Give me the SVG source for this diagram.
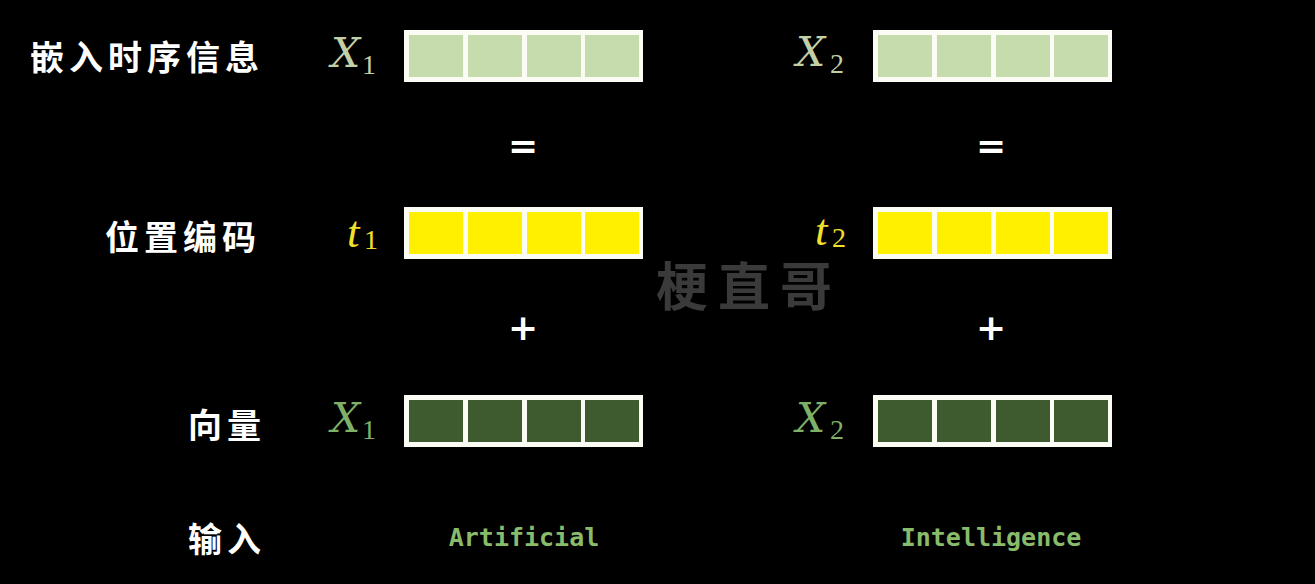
<svg xmlns="http://www.w3.org/2000/svg" width="1315" height="584" viewBox="0 0 1315 584">
<defs>
<style>
.bg{fill:#000}
.frame{fill:#fbfdf5}
.c-light{fill:#c6dcac}
.c-yellow{fill:#fff000}
.c-dark{fill:#3e5b2f}
.cn{font-family:"Noto Sans CJK SC","Noto Sans CJK JP",sans-serif;font-weight:700;font-size:34px;fill:#fff;letter-spacing:5px;dominant-baseline:central}
.math{font-family:"DejaVu Serif","Liberation Serif",serif;font-style:italic;font-size:41px}
.mt{font-family:"Liberation Serif","DejaVu Serif",serif;font-style:italic;font-size:45px}
.sub{font-family:"Liberation Serif","DejaVu Serif",serif;font-size:28px}
.op{font-family:"DejaVu Sans",sans-serif;font-weight:700;font-size:36px;fill:#fff;text-anchor:middle;dominant-baseline:central}
.word{font-family:"DejaVu Sans Mono","Liberation Mono",monospace;font-weight:700;font-size:25px;fill:#88bb6a;text-anchor:middle;dominant-baseline:central}
.wm{font-family:"Noto Sans CJK SC",sans-serif;font-weight:700;font-size:52px;fill:#3a3a3a;letter-spacing:10px}
.lx{fill:#c3cfa6}
.ly{fill:#f2e12a}
.lg{fill:#7fb067}
</style>
<g id="vec">
<rect class="frame" x="0" y="0" width="239" height="52"/>
<rect x="5" y="5" width="54" height="42"/>
<rect x="64" y="5" width="54" height="42"/>
<rect x="123" y="5" width="54" height="42"/>
<rect x="181" y="5" width="54" height="42"/>
</g>
</defs>
<rect class="bg" x="0" y="0" width="1315" height="584"/>
<g id="watermark"><text class="wm" x="656" y="306">梗直哥</text></g>
<g id="labels">
<text class="cn" x="30" y="55">嵌入时序信息</text>
<text class="cn" x="105" y="235">位置编码</text>
<text class="cn" x="188" y="423">向量</text>
<text class="cn" x="188" y="537">输入</text>
</g>
<g id="x1-embed">
<text class="math lx" x="331" y="67">X</text>
<text class="sub lx" x="362" y="74">1</text>
<use href="#vec" x="404" y="30" class="c-light"/>
</g>
<g id="x2-embed">
<text class="math lx" x="796" y="66">X</text>
<text class="sub lx" x="830" y="73">2</text>
<use href="#vec" x="873" y="30" class="c-light"/>
</g>
<g id="t1">
<text class="mt ly" x="347" y="247">t</text>
<text class="sub ly" x="364" y="249">1</text>
<use href="#vec" x="404" y="207" class="c-yellow"/>
</g>
<g id="t2">
<text class="mt ly" x="815" y="245">t</text>
<text class="sub ly" x="832" y="247">2</text>
<use href="#vec" x="873" y="207" class="c-yellow"/>
</g>
<g id="x1-vec">
<text class="math lg" x="331" y="432">X</text>
<text class="sub lg" x="362" y="439">1</text>
<use href="#vec" x="404" y="395" class="c-dark"/>
</g>
<g id="x2-vec">
<text class="math lg" x="796" y="432">X</text>
<text class="sub lg" x="830" y="439">2</text>
<use href="#vec" x="873" y="395" class="c-dark"/>
</g>
<g id="ops">
<text class="op" x="523" y="145">=</text>
<text class="op" x="991" y="145">=</text>
<text class="op" x="523" y="327">+</text>
<text class="op" x="991" y="327">+</text>
</g>
<g id="words">
<text class="word" x="524" y="537">Artificial</text>
<text class="word" x="991" y="537">Intelligence</text>
</g>
<g id="connectors"></g>
</svg>
